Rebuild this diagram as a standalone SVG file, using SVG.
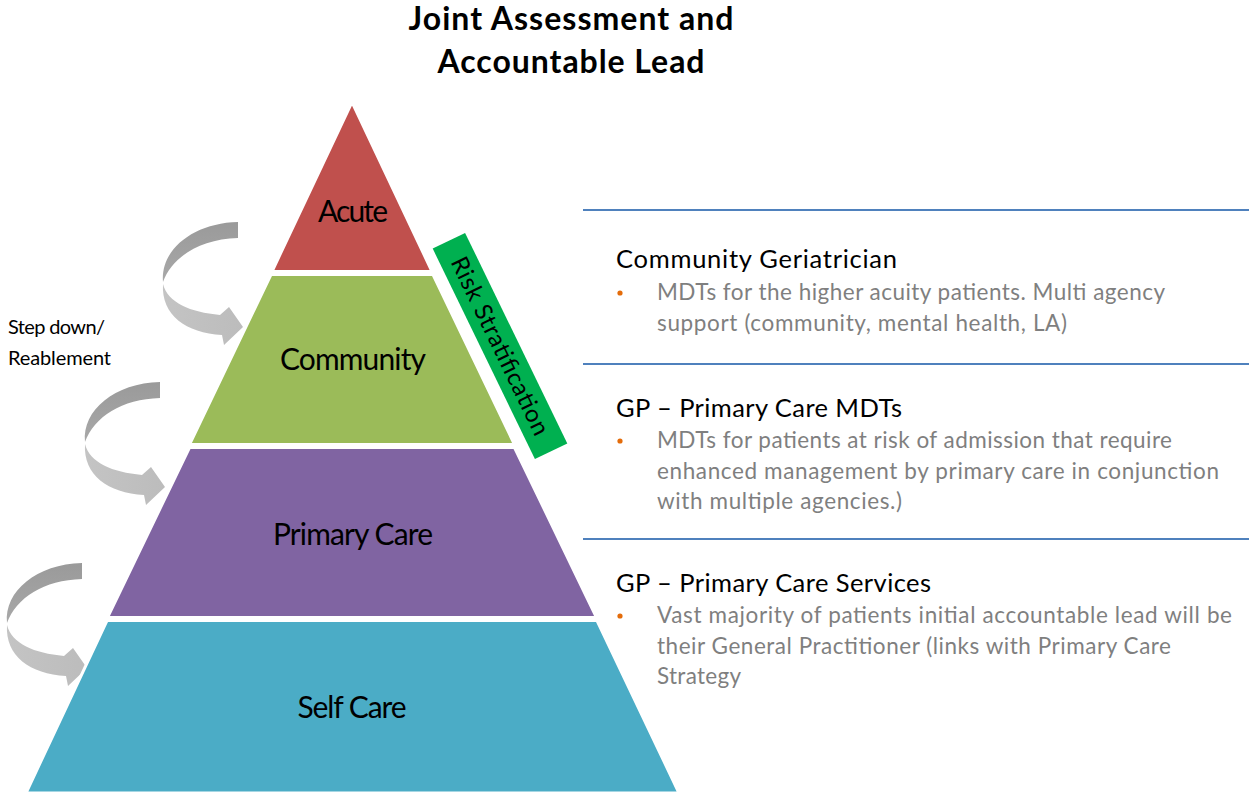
<svg xmlns="http://www.w3.org/2000/svg" xmlns:xlink="http://www.w3.org/1999/xlink" width="1249" height="794" viewBox="0 0 1249 794">
  <style>
    .title{font-family:Lato,"Liberation Sans",Arial,sans-serif;font-weight:bold;font-size:32px;fill:#000;text-anchor:middle}
    .layer{font-family:Lato,"Liberation Sans",Arial,sans-serif;font-size:30px;fill:#000;text-anchor:middle}
    .side{font-family:Lato,"Liberation Sans",Arial,sans-serif;font-size:20px;fill:#000}
    .head{font-family:Lato,"Liberation Sans",Arial,sans-serif;font-size:25.5px;fill:#000}
    .body{font-family:Lato,"Liberation Sans",Arial,sans-serif;font-size:22.5px;fill:#7f7f7f}
    .risk{font-family:Lato,"Liberation Sans",Arial,sans-serif;font-size:24px;fill:#000;text-anchor:middle}
    .sep{stroke:#4f81bd;stroke-width:2}
    .bullet{fill:#e46c0a}
    .lay{stroke:#fff;stroke-width:3}
  </style>
  <defs>
    <linearGradient id="gDark" x1="0" y1="0" x2="0" y2="1">
      <stop offset="0" stop-color="#9a9a9a"/>
      <stop offset="1" stop-color="#a8a8a8"/>
    </linearGradient>
    <linearGradient id="gLight" x1="0" y1="0" x2="1" y2="0">
      <stop offset="0" stop-color="#c4c4c4"/>
      <stop offset="1" stop-color="#bcbcbc"/>
    </linearGradient>
    <g id="curl">
      <path d="M 0 0 L 0 16 C -38 17 -66 35 -75 60 C -78 28 -45 1 0 0 Z" fill="url(#gDark)"/>
      <path d="M -75 62 C -70 81 -48 90 -18 93 L -9 85 L 5 105 L -14 123 L -16 113 C -52 111 -77 93 -75 62 Z" fill="url(#gLight)"/>
    </g>
  </defs>
  <rect width="1249" height="794" fill="#fff"/>

  <g id="title">
    <text class="title" x="571" y="30" textLength="325">Joint Assessment and</text>
    <text class="title" x="571" y="73" textLength="267">Accountable Lead</text>
  </g>

  <g id="connectors">
    <use xlink:href="#curl" href="#curl" transform="translate(238,222)"/>
    <use xlink:href="#curl" href="#curl" transform="translate(160,382)"/>
    <use xlink:href="#curl" href="#curl" transform="translate(82,563)"/>
  </g>

  <g id="step-down-label">
    <text class="side" x="8" y="334" textLength="97">Step down/</text>
    <text class="side" x="8" y="365" textLength="103">Reablement</text>
  </g>

  <g id="layer-acute">
    <polygon class="lay" points="352,102 432,271.5 272,271.5" fill="#c0504d"/>
    <text class="layer" x="353" y="222" textLength="70">Acute</text>
  </g>
  <g id="layer-community">
    <polygon class="lay" points="271,274.5 433,274.5 514.5,444.5 189.5,444.5" fill="#9bbb59"/>
    <text class="layer" x="353" y="370" textLength="146">Community</text>
  </g>
  <g id="layer-primary">
    <polygon class="lay" points="189.5,447.5 514.5,447.5 596.5,617.5 107.5,617.5" fill="#8064a2"/>
    <text class="layer" x="353" y="545" textLength="160">Primary Care</text>
  </g>
  <g id="layer-self">
    <polygon class="lay" points="107,620.5 597,620.5 679,793 26,793" fill="#4bacc6"/>
    <text class="layer" x="352" y="718" textLength="109">Self Care</text>
  </g>

  <g id="risk-stratification" transform="translate(500,346) rotate(64.1)">
    <rect x="-117" y="-18" width="234" height="36" fill="#00b050"/>
    <text class="risk" x="0" y="8" textLength="195">Risk Stratification</text>
  </g>

  <g id="separators">
    <line class="sep" x1="583" y1="210" x2="1249" y2="210"/>
    <line class="sep" x1="583" y1="364" x2="1249" y2="364"/>
    <line class="sep" x1="583" y1="539" x2="1249" y2="539"/>
  </g>

  <g id="community-geriatrician">
    <text class="head" x="616" y="268" textLength="281">Community Geriatrician</text>
    <circle class="bullet" cx="620" cy="293" r="2.6"/>
    <text class="body" x="657" y="300" textLength="508">MDTs for the higher acuity patients. Multi agency</text>
    <text class="body" x="657" y="331" textLength="410">support (community, mental health, LA)</text>
  </g>

  <g id="gp-primary-care-mdts">
    <text class="head" x="616" y="417" textLength="286">GP – Primary Care MDTs</text>
    <circle class="bullet" cx="620" cy="441" r="2.6"/>
    <text class="body" x="657" y="448" textLength="515">MDTs for patients at risk of admission that require</text>
    <text class="body" x="657" y="479" textLength="562">enhanced management by primary care in conjunction</text>
    <text class="body" x="657" y="509" textLength="245">with multiple agencies.)</text>
  </g>

  <g id="gp-primary-care-services">
    <text class="head" x="616" y="592" textLength="315">GP – Primary Care Services</text>
    <circle class="bullet" cx="620" cy="616" r="2.6"/>
    <text class="body" x="657" y="623" textLength="575">Vast majority of patients initial accountable lead will be</text>
    <text class="body" x="657" y="654" textLength="514">their General Practitioner (links with Primary Care</text>
    <text class="body" x="657" y="684" textLength="84">Strategy</text>
  </g>
</svg>
